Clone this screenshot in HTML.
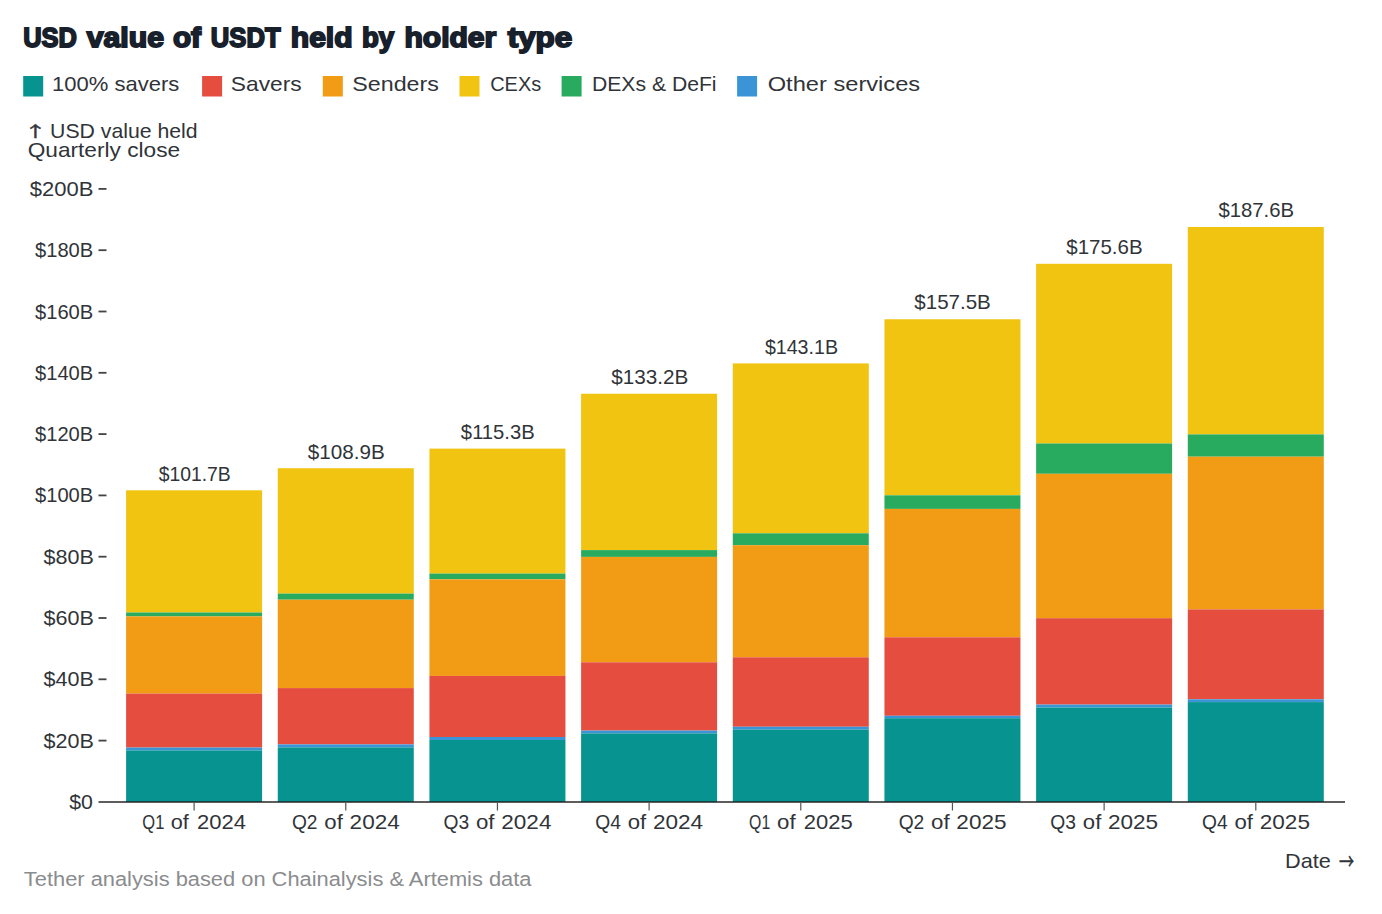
<!DOCTYPE html>
<html><head><meta charset="utf-8"><title>USD value of USDT held by holder type</title>
<style>
html,body{margin:0;padding:0;background:#fff;}
body{width:1382px;height:914px;overflow:hidden;}
svg{display:block;}
text{font-family:"Liberation Sans", Arial, sans-serif;}
.v{font-size:19.8px;fill:#303438;}
.t{font-size:28px;font-weight:700;fill:#17202B;stroke:#17202B;stroke-width:1.8px;}
.ft{font-size:19.4px;fill:#8A8C8E;}
.ar{font-family:"Noto Sans CJK JP",sans-serif;font-size:15.2px;fill:#303438;stroke:#303438;stroke-width:0.45px;}
.ar2{font-family:"Noto Sans CJK JP",sans-serif;font-size:21.97px;fill:#303438;stroke:#303438;stroke-width:0.45px;}
</style></head>
<body>
<svg width="1382" height="914" viewBox="0 0 1382 914">
<rect width="1382" height="914" fill="#fff"/>
<rect x="126.1" y="490.29" width="136" height="122.21" fill="#F0C410"/>
<rect x="126.1" y="612.5" width="136" height="3.9" fill="#29AB5F"/>
<rect x="126.1" y="616.4" width="136" height="77.2" fill="#F29B14"/>
<rect x="126.1" y="693.6" width="136" height="53.95" fill="#E54E3F"/>
<rect x="126.1" y="747.55" width="136" height="2.9" fill="#3A94D6"/>
<rect x="126.1" y="750.45" width="136" height="51.55" fill="#07938F"/>
<rect x="193.5" y="803" width="1.2" height="7.5" fill="#555"/>
<rect x="277.77" y="468.22" width="136" height="125.38" fill="#F0C410"/>
<rect x="277.77" y="593.6" width="136" height="6.1" fill="#29AB5F"/>
<rect x="277.77" y="599.7" width="136" height="88.4" fill="#F29B14"/>
<rect x="277.77" y="688.1" width="136" height="56.3" fill="#E54E3F"/>
<rect x="277.77" y="744.4" width="136" height="3" fill="#3A94D6"/>
<rect x="277.77" y="747.4" width="136" height="54.6" fill="#07938F"/>
<rect x="345.17" y="803" width="1.2" height="7.5" fill="#555"/>
<rect x="429.44" y="448.61" width="136" height="124.99" fill="#F0C410"/>
<rect x="429.44" y="573.6" width="136" height="5.7" fill="#29AB5F"/>
<rect x="429.44" y="579.3" width="136" height="96.6" fill="#F29B14"/>
<rect x="429.44" y="675.9" width="136" height="61.1" fill="#E54E3F"/>
<rect x="429.44" y="737" width="136" height="3" fill="#3A94D6"/>
<rect x="429.44" y="740" width="136" height="62" fill="#07938F"/>
<rect x="496.84" y="803" width="1.2" height="7.5" fill="#555"/>
<rect x="581.11" y="393.74" width="136" height="156.36" fill="#F0C410"/>
<rect x="581.11" y="550.1" width="136" height="6.8" fill="#29AB5F"/>
<rect x="581.11" y="556.9" width="136" height="105.4" fill="#F29B14"/>
<rect x="581.11" y="662.3" width="136" height="68.3" fill="#E54E3F"/>
<rect x="581.11" y="730.6" width="136" height="2.8" fill="#3A94D6"/>
<rect x="581.11" y="733.4" width="136" height="68.6" fill="#07938F"/>
<rect x="648.51" y="803" width="1.2" height="7.5" fill="#555"/>
<rect x="732.78" y="363.4" width="136" height="169.9" fill="#F0C410"/>
<rect x="732.78" y="533.3" width="136" height="11.9" fill="#29AB5F"/>
<rect x="732.78" y="545.2" width="136" height="112.1" fill="#F29B14"/>
<rect x="732.78" y="657.3" width="136" height="69.45" fill="#E54E3F"/>
<rect x="732.78" y="726.75" width="136" height="2.9" fill="#3A94D6"/>
<rect x="732.78" y="729.65" width="136" height="72.35" fill="#07938F"/>
<rect x="800.18" y="803" width="1.2" height="7.5" fill="#555"/>
<rect x="884.45" y="319.26" width="136" height="176.04" fill="#F0C410"/>
<rect x="884.45" y="495.3" width="136" height="13.6" fill="#29AB5F"/>
<rect x="884.45" y="508.9" width="136" height="128.4" fill="#F29B14"/>
<rect x="884.45" y="637.3" width="136" height="78.5" fill="#E54E3F"/>
<rect x="884.45" y="715.8" width="136" height="2.4" fill="#3A94D6"/>
<rect x="884.45" y="718.2" width="136" height="83.8" fill="#07938F"/>
<rect x="951.85" y="803" width="1.2" height="7.5" fill="#555"/>
<rect x="1036.12" y="263.79" width="136" height="179.71" fill="#F0C410"/>
<rect x="1036.12" y="443.5" width="136" height="30.3" fill="#29AB5F"/>
<rect x="1036.12" y="473.8" width="136" height="144.4" fill="#F29B14"/>
<rect x="1036.12" y="618.2" width="136" height="86.4" fill="#E54E3F"/>
<rect x="1036.12" y="704.6" width="136" height="3" fill="#3A94D6"/>
<rect x="1036.12" y="707.6" width="136" height="94.4" fill="#07938F"/>
<rect x="1103.52" y="803" width="1.2" height="7.5" fill="#555"/>
<rect x="1187.79" y="227.01" width="136" height="207.39" fill="#F0C410"/>
<rect x="1187.79" y="434.4" width="136" height="22.3" fill="#29AB5F"/>
<rect x="1187.79" y="456.7" width="136" height="152.7" fill="#F29B14"/>
<rect x="1187.79" y="609.4" width="136" height="89.9" fill="#E54E3F"/>
<rect x="1187.79" y="699.3" width="136" height="2.8" fill="#3A94D6"/>
<rect x="1187.79" y="702.1" width="136" height="99.9" fill="#07938F"/>
<rect x="1255.19" y="803" width="1.2" height="7.5" fill="#555"/>
<rect x="98.5" y="801" width="1246.5" height="2" fill="rgba(30,30,30,0.72)"/>
<rect x="98.5" y="739.7" width="8" height="1.8" fill="#444"/>
<rect x="98.5" y="678.4" width="8" height="1.8" fill="#444"/>
<rect x="98.5" y="617.1" width="8" height="1.8" fill="#444"/>
<rect x="98.5" y="555.8" width="8" height="1.8" fill="#444"/>
<rect x="98.5" y="494.5" width="8" height="1.8" fill="#444"/>
<rect x="98.5" y="433.2" width="8" height="1.8" fill="#444"/>
<rect x="98.5" y="371.9" width="8" height="1.8" fill="#444"/>
<rect x="98.5" y="310.6" width="8" height="1.8" fill="#444"/>
<rect x="98.5" y="249.3" width="8" height="1.8" fill="#444"/>
<rect x="98.5" y="188" width="8" height="1.8" fill="#444"/>
<rect x="23.2" y="76" width="20" height="20.5" fill="#07938F"/>
<rect x="202.1" y="76" width="20" height="20.5" fill="#E54E3F"/>
<rect x="322.8" y="76" width="20" height="20.5" fill="#F29B14"/>
<rect x="459.5" y="76" width="20" height="20.5" fill="#F0C410"/>
<rect x="561.6" y="76" width="20" height="20.5" fill="#29AB5F"/>
<rect x="737.1" y="76" width="20" height="20.5" fill="#3A94D6"/>
<text class="t"><tspan id="tw0" x="23.25" y="46.8" textLength="53.69" lengthAdjust="spacingAndGlyphs">USD</tspan> <tspan id="tw1" x="86.81" y="46.8" textLength="77.18" lengthAdjust="spacingAndGlyphs">value</tspan> <tspan id="tw2" x="172.93" y="46.8" textLength="28.1" lengthAdjust="spacingAndGlyphs">of</tspan> <tspan id="tw3" x="210.85" y="46.8" textLength="69.72" lengthAdjust="spacingAndGlyphs">USDT</tspan> <tspan id="tw4" x="290.79" y="46.8" textLength="61.74" lengthAdjust="spacingAndGlyphs">held</tspan> <tspan id="tw5" x="362" y="46.8" textLength="32.17" lengthAdjust="spacingAndGlyphs">by</tspan> <tspan id="tw6" x="404.45" y="46.8" textLength="91.85" lengthAdjust="spacingAndGlyphs">holder</tspan> <tspan id="tw7" x="507.69" y="46.8" textLength="64.61" lengthAdjust="spacingAndGlyphs">type</tspan></text>
<text id="leg0" x="52.04" y="90.6" textLength="127.33" lengthAdjust="spacingAndGlyphs" class="v">100% savers</text>
<text id="leg1" x="230.85" y="90.6" textLength="70.81" lengthAdjust="spacingAndGlyphs" class="v">Savers</text>
<text id="leg2" x="352.25" y="90.6" textLength="86.63" lengthAdjust="spacingAndGlyphs" class="v">Senders</text>
<text id="leg3" x="490.18" y="90.6" textLength="51.01" lengthAdjust="spacingAndGlyphs" class="v">CEXs</text>
<text id="leg4" x="591.93" y="90.6" textLength="124.63" lengthAdjust="spacingAndGlyphs" class="v">DEXs &amp; DeFi</text>
<text id="leg5" x="767.72" y="90.6" textLength="152.44" lengthAdjust="spacingAndGlyphs" class="v">Other services</text>
<text class="v"><tspan class="ar" x="24.1" y="136.6" textLength="22.8" lengthAdjust="spacingAndGlyphs">↑</tspan> <tspan id="yl1" x="50.05" y="137.5" textLength="147.56" lengthAdjust="spacingAndGlyphs">USD value held</tspan></text>
<text id="yl2" x="27.71" y="156.7" textLength="152.38" lengthAdjust="spacingAndGlyphs" class="v">Quarterly close</text>
<text id="val0" x="158.69" y="480.9" textLength="72.1" lengthAdjust="spacingAndGlyphs" class="v">$101.7B</text>
<text id="val1" x="307.87" y="458.9" textLength="76.95" lengthAdjust="spacingAndGlyphs" class="v">$108.9B</text>
<text id="val2" x="460.89" y="438.9" textLength="73.87" lengthAdjust="spacingAndGlyphs" class="v">$115.3B</text>
<text id="val3" x="611.29" y="383.9" textLength="77.14" lengthAdjust="spacingAndGlyphs" class="v">$133.2B</text>
<text id="val4" x="764.89" y="353.5" textLength="73.11" lengthAdjust="spacingAndGlyphs" class="v">$143.1B</text>
<text id="val5" x="914.29" y="309.2" textLength="76.54" lengthAdjust="spacingAndGlyphs" class="v">$157.5B</text>
<text id="val6" x="1066.29" y="253.9" textLength="76.34" lengthAdjust="spacingAndGlyphs" class="v">$175.6B</text>
<text id="val7" x="1218.4" y="217.3" textLength="75.74" lengthAdjust="spacingAndGlyphs" class="v">$187.6B</text>
<text class="v"><tspan id="q0_0" x="142.33" y="828.6" textLength="21.99" lengthAdjust="spacingAndGlyphs">Q1</tspan> <tspan id="q0_1" x="170.69" y="828.6" textLength="18.08" lengthAdjust="spacingAndGlyphs">of</tspan> <tspan id="q0_2" x="197.01" y="828.6" textLength="48.94" lengthAdjust="spacingAndGlyphs">2024</tspan></text>
<text class="v"><tspan id="q1_0" x="291.89" y="828.6" textLength="25.57" lengthAdjust="spacingAndGlyphs">Q2</tspan> <tspan id="q1_1" x="324.32" y="828.6" textLength="18.53" lengthAdjust="spacingAndGlyphs">of</tspan> <tspan id="q1_2" x="349.64" y="828.6" textLength="50.17" lengthAdjust="spacingAndGlyphs">2024</tspan></text>
<text class="v"><tspan id="q2_0" x="443.58" y="828.6" textLength="25.61" lengthAdjust="spacingAndGlyphs">Q3</tspan> <tspan id="q2_1" x="475.97" y="828.6" textLength="18.6" lengthAdjust="spacingAndGlyphs">of</tspan> <tspan id="q2_2" x="501.27" y="828.6" textLength="50.17" lengthAdjust="spacingAndGlyphs">2024</tspan></text>
<text class="v"><tspan id="q3_0" x="595.27" y="828.6" textLength="25.61" lengthAdjust="spacingAndGlyphs">Q4</tspan> <tspan id="q3_1" x="627.75" y="828.6" textLength="18.48" lengthAdjust="spacingAndGlyphs">of</tspan> <tspan id="q3_2" x="652.92" y="828.6" textLength="50.17" lengthAdjust="spacingAndGlyphs">2024</tspan></text>
<text class="v"><tspan id="q4_0" x="749.09" y="828.6" textLength="21.1" lengthAdjust="spacingAndGlyphs">Q1</tspan> <tspan id="q4_1" x="777.05" y="828.6" textLength="18.54" lengthAdjust="spacingAndGlyphs">of</tspan> <tspan id="q4_2" x="803.74" y="828.6" textLength="48.94" lengthAdjust="spacingAndGlyphs">2025</tspan></text>
<text class="v"><tspan id="q5_0" x="898.65" y="828.6" textLength="25.61" lengthAdjust="spacingAndGlyphs">Q2</tspan> <tspan id="q5_1" x="931.04" y="828.6" textLength="18.6" lengthAdjust="spacingAndGlyphs">of</tspan> <tspan id="q5_2" x="956.35" y="828.6" textLength="50.17" lengthAdjust="spacingAndGlyphs">2025</tspan></text>
<text class="v"><tspan id="q6_0" x="1050.31" y="828.6" textLength="25.65" lengthAdjust="spacingAndGlyphs">Q3</tspan> <tspan id="q6_1" x="1082.83" y="828.6" textLength="18.48" lengthAdjust="spacingAndGlyphs">of</tspan> <tspan id="q6_2" x="1108" y="828.6" textLength="50.17" lengthAdjust="spacingAndGlyphs">2025</tspan></text>
<text class="v"><tspan id="q7_0" x="1202.03" y="828.6" textLength="25.57" lengthAdjust="spacingAndGlyphs">Q4</tspan> <tspan id="q7_1" x="1234.46" y="828.6" textLength="18.53" lengthAdjust="spacingAndGlyphs">of</tspan> <tspan id="q7_2" x="1259.78" y="828.6" textLength="50.17" lengthAdjust="spacingAndGlyphs">2025</tspan></text>
<text id="y0" x="69.27" y="808.9" textLength="23.68" lengthAdjust="spacingAndGlyphs" class="v">$0</text>
<text id="y1" x="43.44" y="747.6" textLength="50.33" lengthAdjust="spacingAndGlyphs" class="v">$20B</text>
<text id="y2" x="43.44" y="686.3" textLength="50.33" lengthAdjust="spacingAndGlyphs" class="v">$40B</text>
<text id="y3" x="43.44" y="625" textLength="50.33" lengthAdjust="spacingAndGlyphs" class="v">$60B</text>
<text id="y4" x="43.44" y="563.7" textLength="50.33" lengthAdjust="spacingAndGlyphs" class="v">$80B</text>
<text id="y5" x="35" y="502.4" textLength="58.21" lengthAdjust="spacingAndGlyphs" class="v">$100B</text>
<text id="y6" x="35" y="441.1" textLength="58.21" lengthAdjust="spacingAndGlyphs" class="v">$120B</text>
<text id="y7" x="35" y="379.8" textLength="58.21" lengthAdjust="spacingAndGlyphs" class="v">$140B</text>
<text id="y8" x="35" y="318.5" textLength="58.21" lengthAdjust="spacingAndGlyphs" class="v">$160B</text>
<text id="y9" x="35" y="257.2" textLength="58.21" lengthAdjust="spacingAndGlyphs" class="v">$180B</text>
<text id="y10" x="29.7" y="195.9" textLength="63.65" lengthAdjust="spacingAndGlyphs" class="v">$200B</text>
<text class="v"><tspan id="date" x="1285.03" y="867.5" textLength="45.78" lengthAdjust="spacingAndGlyphs">Date</tspan> <tspan class="ar2" x="1338.9" y="868.95" textLength="15.05" lengthAdjust="spacingAndGlyphs">→</tspan></text>
<text id="foot" x="23.86" y="885.9" textLength="507.6" lengthAdjust="spacingAndGlyphs" class="ft">Tether analysis based on Chainalysis &amp; Artemis data</text>
</svg>
</body></html>
